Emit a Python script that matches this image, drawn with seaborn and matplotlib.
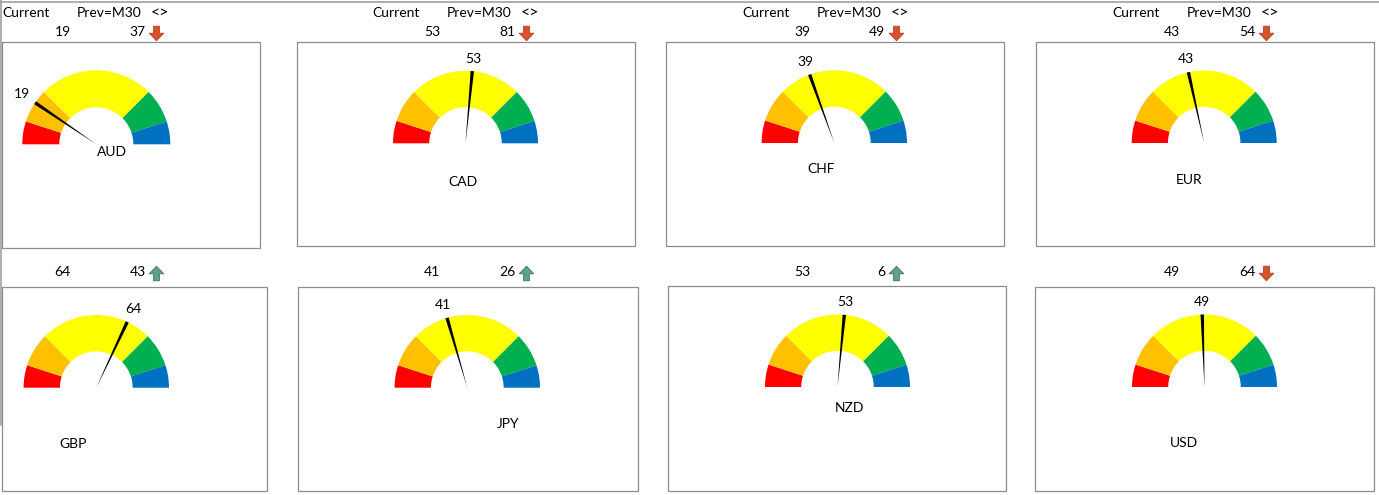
import matplotlib.pyplot as plt
import numpy as np
import seaborn as sns
from matplotlib.patches import Rectangle, Wedge
from matplotlib.path import Path

# gauge data
currencies = ["AUD", "CAD", "CHF", "EUR", "GBP", "JPY", "NZD", "USD"]
current = [19, 53, 39, 43, 64, 41, 53, 49]
previous = [37, 81, 49, 54, 43, 26, 6, 64]
band_edges = [0, 10, 25, 75, 90, 100]
band_colors = ["#FF0000", "#FFC000", "#FFFF00", "#00B050", "#0070C0"]
header_labels = ["Current", "Prev=M30", "<>"]

# layout (pixels, origin top-left)
W, H = 1379, 495
col_off = [0, 369.6, 739.6, 1109.6]
row_num_y = [32.5, 272.5]
gauge_px = [(96.3, 144.3, 74), (465.5, 143.3, 72.5), (834.3, 143, 72.7), (1204.2, 143, 72.5),
            (96.3, 387.7, 72.7), (467.3, 387.7, 72.7), (837.5, 387, 72.5), (1204.5, 387, 72.5)]
boxes = [(1.7, 42.3, 260.3, 248), (296.7, 41.7, 635.3, 246.3), (665.7, 41.7, 1004.3, 246.3), (1035.7, 41.7, 1374.3, 246.3),
         (2.3, 286.7, 266.7, 491), (298.3, 286.7, 637.7, 491.3), (668, 286.3, 1006, 490.5), (1035.3, 287, 1374, 491)]
name_px = [(112, 152), (463, 182), (821, 169), (1189.5, 180),
           (72.7, 444), (508, 424), (849, 408), (1184, 443)]

sns.set_theme(style="white")
plt.rcParams["font.family"] = ["Lato", "DejaVu Sans"]
fs = 10
palette = sns.color_palette(band_colors)

down_arrow = Path([(-0.2, 0.5), (0.2, 0.5), (0.2, 0.02), (0.5, 0.02), (0, -0.5), (-0.5, 0.02), (-0.2, 0.02), (-0.2, 0.5)],
                  [Path.MOVETO] + [Path.LINETO] * 6 + [Path.CLOSEPOLY])
up_arrow = Path([(x, -y) for x, y in down_arrow.vertices], down_arrow.codes)

fig = plt.figure(figsize=(W / 100, H / 100), dpi=100)
base = fig.add_axes([0, 0, 1, 1])
base.set_xlim(0, W)
base.set_ylim(H, 0)
base.axis("off")

# window edges
base.plot([0, W], [1.7, 1.7], color="#a0a0a0", lw=1.2)
base.plot([1, 1], [0, 425], color="#a0a0a0", lw=1.2)

for c in range(4):
    off = col_off[c]
    for txt, x, s in zip(header_labels, [2.7, 76.7, 150.7], [fs, fs, fs + 1.5]):
        base.text(x + off, 12.7, txt, ha="left", va="center", fontsize=s, color="black")

for i, name in enumerate(currencies):
    r, c = divmod(i, 4)
    off = col_off[c]
    y = row_num_y[r]
    base.text(70.7 + off, y, str(current[i]), ha="right", va="center", fontsize=fs, color="black")
    base.text(145.7 + off, y, str(previous[i]), ha="right", va="center", fontsize=fs, color="black")
    if current[i] < previous[i]:
        base.plot(156.3 + off, y, marker=down_arrow, markersize=10.5, color="#D5532F", mec="#B5401F", mew=0.6)
    else:
        base.plot(156.3 + off, y, marker=up_arrow, markersize=10.5, color="#62A088", mec="#3F7560", mew=0.6)
    x0, y0, x1, y1 = boxes[i]
    base.add_patch(Rectangle((x0, y0), x1 - x0, y1 - y0, fill=False, ec="#8c8c8c", lw=0.9))
    base.text(name_px[i][0], name_px[i][1], name, ha="center", va="center", fontsize=fs, color="black")

# gauges
for i, val in enumerate(current):
    cx, cy, R = gauge_px[i]
    ax = fig.add_axes([(cx - 1.5 * R) / W, (H - (cy + 0.3 * R)) / H, 3 * R / W, 1.8 * R / H])
    ax.set_xlim(-1.5, 1.5)
    ax.set_ylim(-0.3, 1.5)
    ax.axis("off")
    ax.patch.set_alpha(0)
    for k, col in enumerate(palette):
        a, b = band_edges[k], band_edges[k + 1]
        ax.add_patch(Wedge((0, 0), 1, 180 - b * 1.8, 180 - a * 1.8, width=0.5, fc=col, ec="none"))
    th = np.radians(180 - val * 1.8)
    tip = np.array([np.cos(th), np.sin(th)])
    perp = np.array([-np.sin(th), np.cos(th)])
    w = 1.7 / R
    p1 = tip + perp * w
    p2 = tip - perp * w
    ax.fill([0, p1[0], p2[0]], [0, p1[1], p2[1]], color="black", lw=0)
    lr = 1 + (12 + 5 * abs(np.cos(th))) / R
    ax.text(lr * np.cos(th), lr * np.sin(th), str(val), ha="center", va="center", fontsize=fs, color="black")

fig.savefig("out.png", dpi=100)
